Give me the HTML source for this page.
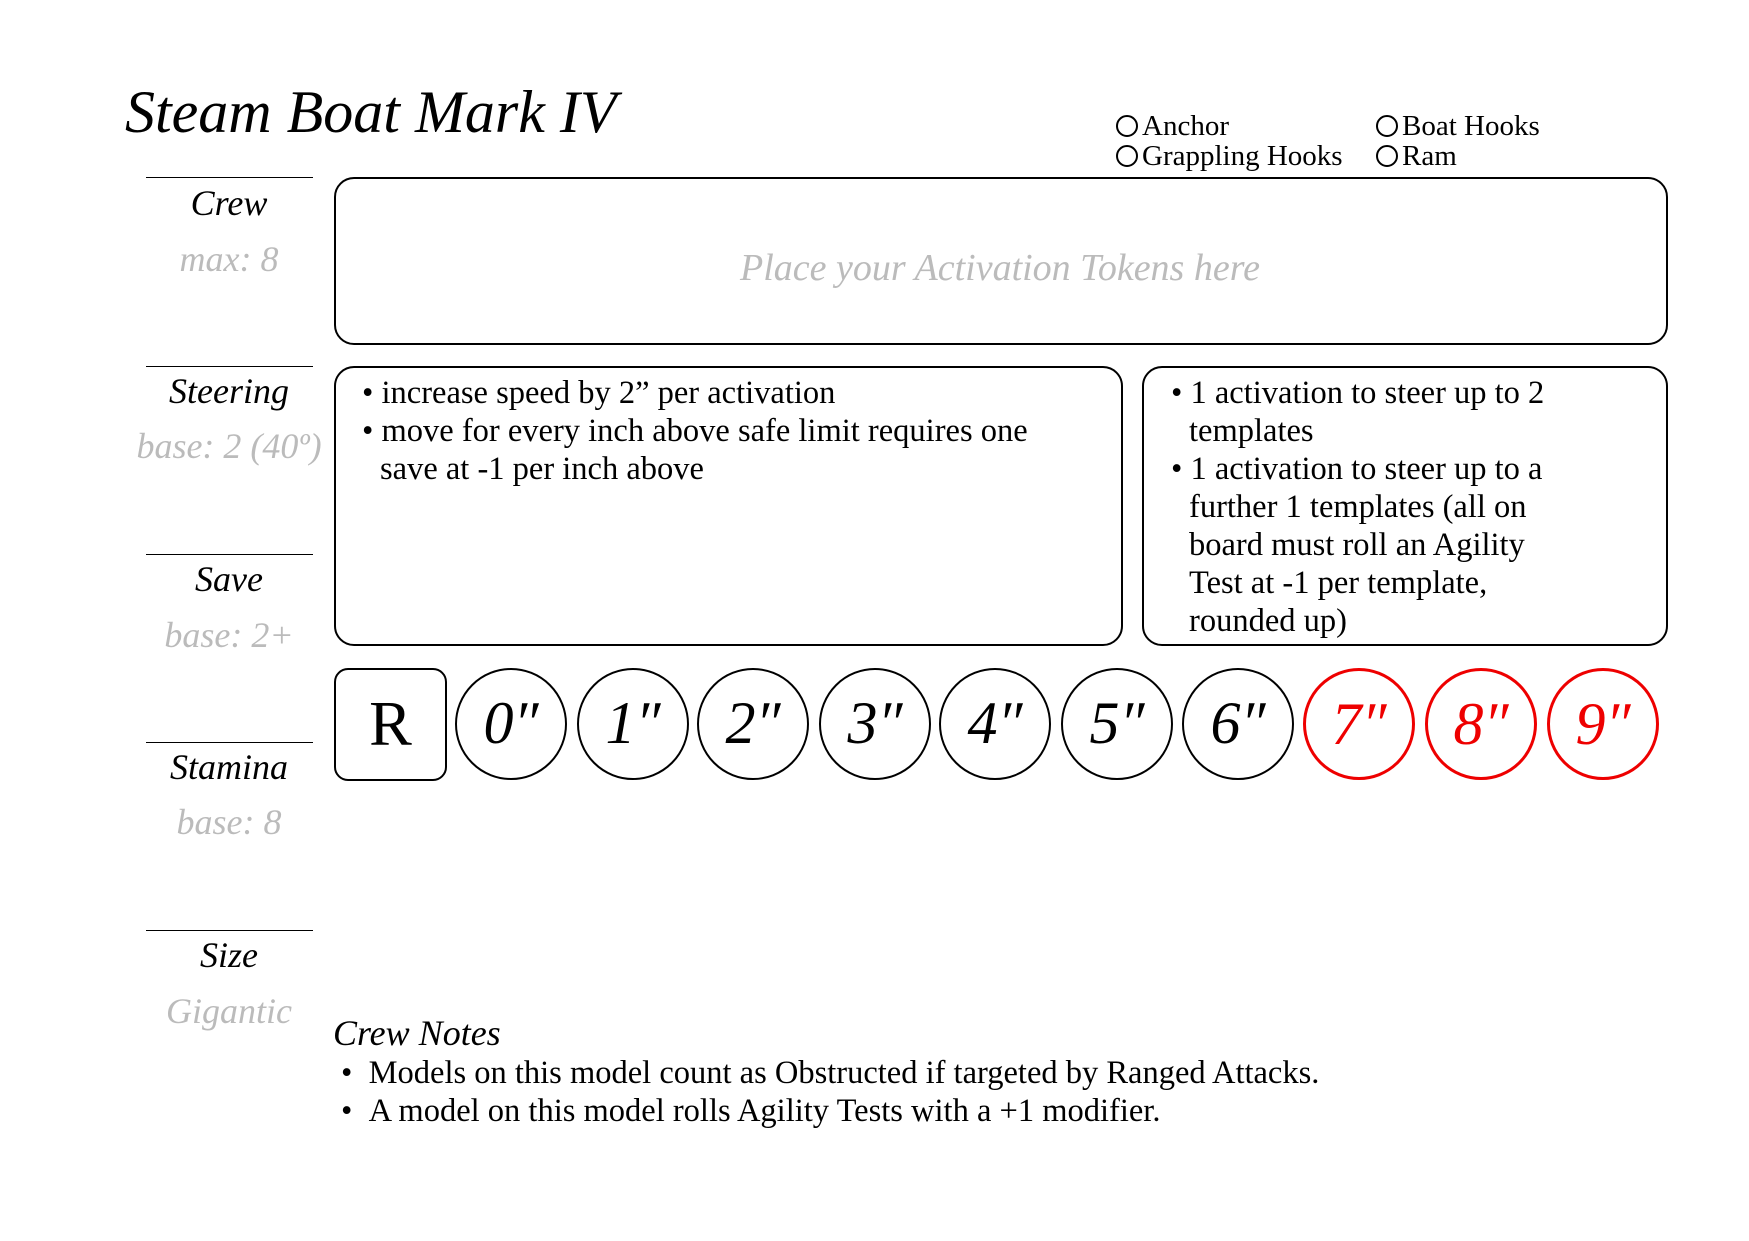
<!DOCTYPE html>
<html><head><meta charset="utf-8"><style>
body{margin:0;width:1749px;height:1241px;background:#fff;position:relative;overflow:hidden;font-family:"Liberation Serif",serif;}
.a{position:absolute;white-space:nowrap;}
.sc{font-family:"Liberation Serif",serif;font-style:italic;}
.ln{position:absolute;left:146px;width:167px;height:0;border-top:1.5px solid #000;}
.lab{position:absolute;left:129px;width:200px;text-align:center;font-size:36px;font-style:italic;}
.sub{color:#bbb;}
.box{position:absolute;border:2px solid #000;border-radius:20px;box-sizing:border-box;}
.t{font-size:32.5px;line-height:38px;}
.c{position:absolute;top:668px;width:112px;height:112px;border:2px solid #000;border-radius:50%;box-sizing:border-box;text-align:center;line-height:106px;font-size:60px;font-style:italic;}
.r{border-color:#e00;color:#e00;border-width:3px;}
.cb{display:inline-block;width:18px;height:18px;border:2px solid #000;border-radius:50%;vertical-align:-2px;margin-right:4px;}
</style></head><body>
<div class="a sc" style="left:125px;top:78px;font-size:60px;">Steam Boat Mark IV</div>
<div class="a" style="left:1116px;top:110px;font-size:29px;"><span class="cb"></span>Anchor</div>
<div class="a" style="left:1116px;top:140px;font-size:29px;"><span class="cb"></span>Grappling Hooks</div>
<div class="a" style="left:1376px;top:110px;font-size:29px;"><span class="cb"></span>Boat Hooks</div>
<div class="a" style="left:1376px;top:140px;font-size:29px;"><span class="cb"></span>Ram</div>

<div class="ln" style="top:177px"></div><div class="ln" style="top:366px"></div><div class="ln" style="top:554px"></div><div class="ln" style="top:742px"></div><div class="ln" style="top:930px"></div>
<div class="lab" style="top:182px">Crew</div><div class="lab sub" style="top:238px">max: 8</div>
<div class="lab" style="top:370px">Steering</div><div class="lab sub" style="top:425px">base: 2 (40º)</div>
<div class="lab" style="top:558px">Save</div><div class="lab sub" style="top:614px">base: 2+</div>
<div class="lab" style="top:746px">Stamina</div><div class="lab sub" style="top:801px">base: 8</div>
<div class="lab" style="top:934px">Size</div><div class="lab sub" style="top:990px">Gigantic</div>

<div class="box" style="left:334px;top:177px;width:1334px;height:168px;"></div>
<div class="a sc sub" style="left:1000px;top:246px;transform:translateX(-50%);font-size:38px;">Place your Activation Tokens here</div>

<div class="box" style="left:334px;top:366px;width:789px;height:280px;"></div>
<div class="a t" style="left:362px;top:374px;">• increase speed by 2” per activation</div>
<div class="a t" style="left:362px;top:412px;">• move for every inch above safe limit requires one</div>
<div class="a t" style="left:380px;top:450px;">save at -1 per inch above</div>

<div class="box" style="left:1142px;top:366px;width:526px;height:280px;"></div>
<div class="a t" style="left:1171px;top:374px;">• 1 activation to steer up to 2</div>
<div class="a t" style="left:1189px;top:412px;">templates</div>
<div class="a t" style="left:1171px;top:450px;">• 1 activation to steer up to a</div>
<div class="a t" style="left:1189px;top:488px;">further 1 templates (all on</div>
<div class="a t" style="left:1189px;top:526px;">board must roll an Agility</div>
<div class="a t" style="left:1189px;top:564px;">Test at -1 per template,</div>
<div class="a t" style="left:1189px;top:602px;">rounded up)</div>

<div class="box" style="left:334px;top:668px;width:113px;height:113px;border-radius:14px;text-align:center;line-height:108px;font-size:64px;">R</div>
<div class="c" style="left:455px">0″</div><div class="c" style="left:577px">1″</div><div class="c" style="left:697px">2″</div><div class="c" style="left:819px">3″</div><div class="c" style="left:939px">4″</div><div class="c" style="left:1061px">5″</div><div class="c" style="left:1182px">6″</div>
<div class="c r" style="left:1303px">7″</div><div class="c r" style="left:1425px">8″</div><div class="c r" style="left:1547px">9″</div>

<div class="a sc" style="left:333px;top:1012px;font-size:36px;">Crew Notes</div>
<div class="a t" style="left:341px;top:1054px;">•&nbsp;&nbsp;Models on this model count as Obstructed if targeted by Ranged Attacks.</div>
<div class="a t" style="left:341px;top:1092px;">•&nbsp;&nbsp;A model on this model rolls Agility Tests with a +1 modifier.</div>
</body></html>
